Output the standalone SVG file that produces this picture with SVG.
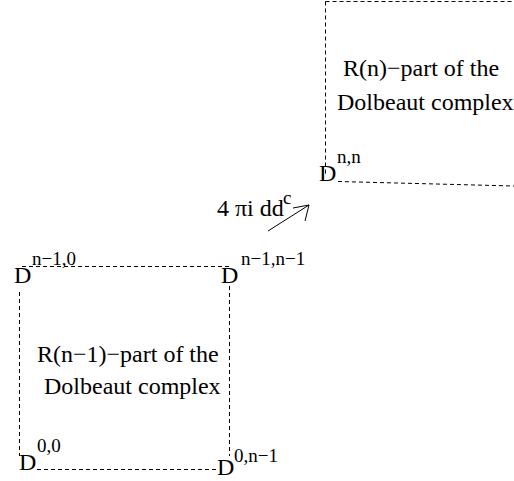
<svg xmlns="http://www.w3.org/2000/svg" width="514" height="481" viewBox="0 0 514 481">
<defs>
<style>
.t{font-family:"Liberation Serif","Times New Roman",serif;fill:#000}
.big{font-size:24px}
.lab{font-size:24px}
.sup{font-size:19px}
.dash{stroke:#000;stroke-width:1;stroke-dasharray:4,3;fill:none}
</style>
</defs>
<rect width="514" height="481" fill="#fff"/>
<g id="connectors">
<line class="dash" x1="22" y1="266.5" x2="229" y2="266.5"/>
<line class="dash" x1="19.5" y1="292" x2="19.5" y2="456"/>
<line class="dash" x1="229.5" y1="286" x2="229.5" y2="456"/>
<line class="dash" x1="37" y1="469.5" x2="218" y2="469.5"/>
<line class="dash" x1="325.5" y1="1.5" x2="514" y2="1.5"/>
<line class="dash" x1="325.5" y1="1.5" x2="325.5" y2="176"/>
<line class="dash" x1="338" y1="181.5" x2="514" y2="186"/>
<g id="arrow" stroke="#000" stroke-width="1" fill="none">
<line x1="268" y1="231" x2="309" y2="205"/>
<polyline points="293,208 309,205 305,221"/>
</g>
</g>
<g id="node-top-right">
<text class="t lab" x="343" y="76">R(n)−part of the</text>
<text class="t lab" x="337" y="110">Dolbeaut complex</text>
<text class="t big" x="319" y="181">D</text>
<text class="t sup" x="337" y="163">n,n</text>
</g>
<g id="node-left">
<text class="t lab" x="37" y="362">R(n−1)−part of the</text>
<text class="t lab" x="44" y="394">Dolbeaut complex</text>
</g>
<g id="D-n1-0">
<text class="t big" x="14" y="283">D</text>
<text class="t sup" x="32" y="265">n−1,0</text>
</g>
<g id="D-n1-n1">
<text class="t big" x="221" y="283">D</text>
<text class="t sup" x="241" y="265">n−1,n−1</text>
</g>
<g id="D-0-0">
<text class="t big" x="19" y="470">D</text>
<text class="t sup" x="37" y="452">0,0</text>
</g>
<g id="D-0-n1">
<text class="t big" x="217" y="475">D</text>
<text class="t sup" x="234" y="462">0,n−1</text>
</g>
<g id="arrow-label">
<text class="t lab" x="217" y="216">4 πi dd</text>
<text class="t sup" x="283" y="204">c</text>
</g>
</svg>
